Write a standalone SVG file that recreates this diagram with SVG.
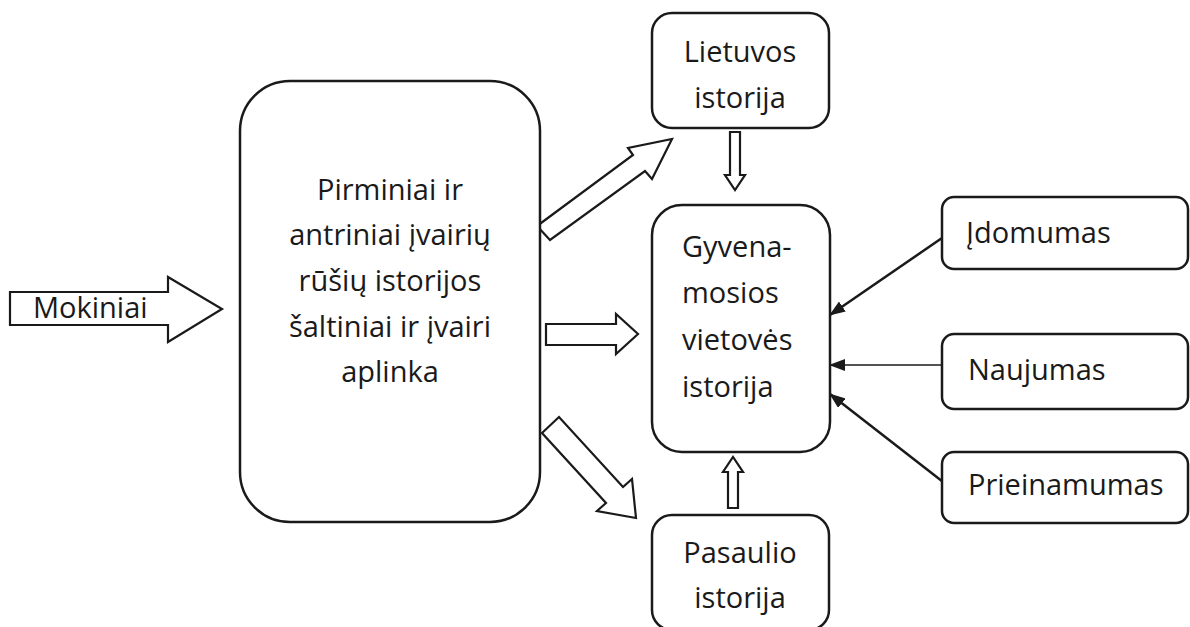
<svg xmlns="http://www.w3.org/2000/svg" width="1190" height="627" viewBox="0 0 1190 627">
<defs>
<style>
.box{fill:#fff;stroke:#1a1a1a;stroke-width:2.5}
.blk{fill:#fff;stroke:#1a1a1a;stroke-width:2.2;stroke-linejoin:miter}
.t{font-family:"Open Sans","Noto Sans",sans-serif;font-size:29px;fill:#1a1a1a}
.c{text-anchor:middle}
.ln{stroke:#1a1a1a;fill:none}
</style>
<marker id="ah" viewBox="0 0 16 12" refX="15" refY="6" markerWidth="16" markerHeight="12" markerUnits="userSpaceOnUse" orient="auto">
<path d="M0,0 L16,6 L0,12 z" fill="#1a1a1a"/>
</marker>
</defs>
<rect width="1190" height="627" fill="#fff"/>

<g id="connectors">
<path class="blk" d="M10,292 L168,292 L168,277 L222,309 L168,342 L168,325 L10,325 Z"/>
<path class="blk" d="M537,226 L633,155 L628,148 L672,139 L652,179 L645,171 L550,240 Z"/>
<path class="blk" d="M546,324 L616,324 L616,314 L638,334 L616,354 L616,345 L546,345 Z"/>
<path class="blk" d="M542,433 L559,417 L623,487 L632,479 L636,518 L597,511 L606,503 Z"/>
<path class="blk" d="M730,132 L740,132 L740,175 L745,175 L735,190 L725,175 L730,175 Z"/>
<path class="blk" d="M728,508 L738,508 L738,472 L743,472 L733,457 L723,472 L728,472 Z"/>
<line class="ln" x1="942" y1="238" x2="830" y2="315" stroke-width="2.5" marker-end="url(#ah)"/>
<line class="ln" x1="942" y1="365" x2="830" y2="365" stroke-width="1.3" marker-end="url(#ah)"/>
<line class="ln" x1="947" y1="485" x2="830" y2="394" stroke-width="2.5" marker-end="url(#ah)"/>
</g>

<g id="mokiniai">
<text class="t" x="33" y="318">Mokiniai</text>
</g>

<g id="saltiniai">
<rect class="box" x="240" y="81" width="300" height="441" rx="50" ry="50"/>
<text class="t c" x="390" y="200">Pirminiai ir</text>
<text class="t c" x="390" y="245">antriniai įvairių</text>
<text class="t c" x="390" y="291">rūšių istorijos</text>
<text class="t c" x="390" y="337">šaltiniai ir įvairi</text>
<text class="t c" x="390" y="382">aplinka</text>
</g>

<g id="lietuvos">
<rect class="box" x="652" y="13" width="177" height="115" rx="20" ry="20"/>
<text class="t c" x="740" y="62">Lietuvos</text>
<text class="t c" x="740" y="108">istorija</text>
</g>

<g id="gyvenamosios">
<rect class="box" x="652" y="205" width="178" height="247" rx="30" ry="30"/>
<text class="t" x="682" y="257">Gyvena-</text>
<text class="t" x="682" y="303">mosios</text>
<text class="t" x="682" y="350">vietovės</text>
<text class="t" x="682" y="397">istorija</text>
</g>

<g id="pasaulio">
<rect class="box" x="652" y="515" width="177" height="115" rx="20" ry="20"/>
<text class="t c" x="740" y="563">Pasaulio</text>
<text class="t c" x="740" y="608">istorija</text>
</g>

<g id="idomumas">
<rect class="box" x="942" y="197" width="246" height="72" rx="12" ry="12"/>
<text class="t" x="966" y="243">Įdomumas</text>
</g>

<g id="naujumas">
<rect class="box" x="942" y="334" width="246" height="75" rx="12" ry="12"/>
<text class="t" x="968" y="380">Naujumas</text>
</g>

<g id="prieinamumas">
<rect class="box" x="942" y="452" width="246" height="71" rx="12" ry="12"/>
<text class="t" x="968" y="495">Prieinamumas</text>
</g>
</svg>
